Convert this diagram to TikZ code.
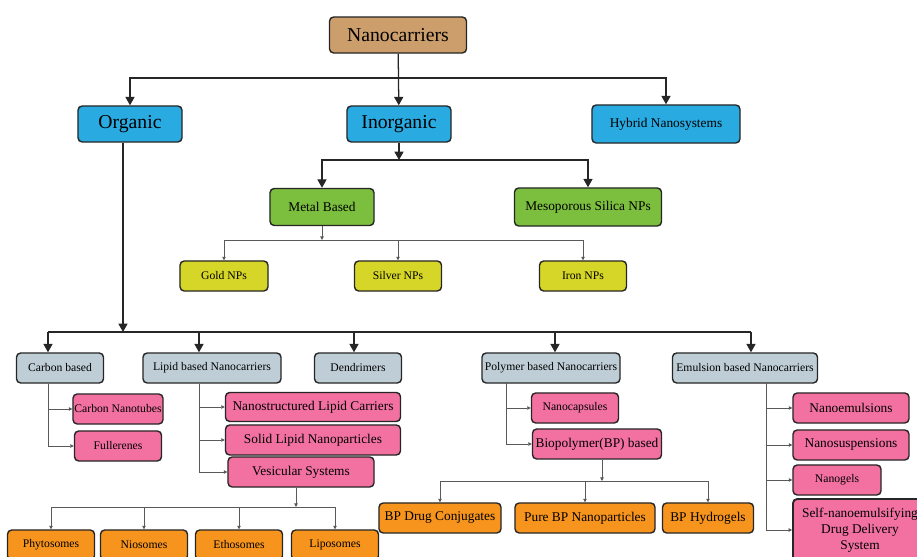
\documentclass[tikz,border=0pt]{standalone}
\usepackage{fontspec}
\setmainfont{Liberation Serif}
\usetikzlibrary{arrows.meta}
\definecolor{mtan}{RGB}{204,158,108}
\definecolor{mblue}{RGB}{41,171,226}
\definecolor{mgreen}{RGB}{124,190,62}
\definecolor{myellow}{RGB}{214,214,40}
\definecolor{mgrey}{RGB}{191,206,214}
\definecolor{mpink}{RGB}{242,113,160}
\definecolor{morange}{RGB}{247,148,30}
\tikzset{box/.style = {draw=black!85, line width=1pt, rounded corners=3pt, inner sep=1pt, align=center, text=black}}
\tikzset{lg/.style = {font=\fontsize{14}{16}\selectfont}}
\tikzset{md/.style = {font=\fontsize{9.5}{11.5}\selectfont}}
\tikzset{sm/.style = {font=\fontsize{8.3}{10}\selectfont}}
\tikzset{barrow/.style = {line width=0.9pt, draw=black!85, -{Triangle[width=6.5pt,length=6pt]}}}
\tikzset{sarrow/.style = {line width=0.6pt, draw=black!65, -{Triangle[width=2.5pt,length=2.5pt]}}}
\tikzset{bline/.style = {line width=0.9pt, draw=black!85}}

\begin{document}
\begin{tikzpicture}[x=0.025cm, y=-0.025cm]
    \useasboundingbox (0,0) rectangle (917,557);

    % top levels
    \node[box, lg, fill=mtan, minimum width=3.425cm, minimum height=0.9cm] (nano) at (398,35) {Nanocarriers};
    \node[box, lg, fill=mblue, minimum width=2.6cm, minimum height=0.9cm] (org) at (130,124) {Organic};
    \node[box, lg, fill=mblue, minimum width=2.6cm, minimum height=0.9cm] (inorg) at (399,124) {Inorganic};
    \node[box, md, fill=mblue, minimum width=3.7cm, minimum height=0.95cm] (hyb) at (666,124) {Hybrid Nanosystems};
    \node[box, md, fill=mgreen, minimum width=2.6cm, minimum height=0.925cm] (metal) at (322,207) {Metal Based};
    \node[box, md, fill=mgreen, minimum width=3.675cm, minimum height=0.95cm] (meso) at (588,207) {Mesoporous Silica NPs};
    \node[box, sm, fill=myellow, minimum width=2.2cm, minimum height=0.75cm] (gold) at (224,276) {Gold NPs};
    \node[box, sm, fill=myellow, minimum width=2.175cm, minimum height=0.75cm] (silver) at (398,276) {Silver NPs};
    \node[box, sm, fill=myellow, minimum width=2.175cm, minimum height=0.75cm] (iron) at (583,276) {Iron NPs};

    % organic classes
    \node[box, sm, fill=mgrey, minimum width=2.175cm, minimum height=0.75cm] (carb) at (60,368) {Carbon based};
    \node[box, sm, fill=mgrey, minimum width=3.45cm, minimum height=0.75cm] (lipid) at (212,368) {Lipid based Nanocarriers};
    \node[box, sm, fill=mgrey, minimum width=2.175cm, minimum height=0.75cm] (dend) at (358,368) {Dendrimers};
    \node[box, sm, fill=mgrey, minimum width=3.45cm, minimum height=0.75cm] (poly) at (551,368) {Polymer based Nanocarriers};
    \node[box, sm, fill=mgrey, minimum width=3.625cm, minimum height=0.75cm] (emul) at (745,368) {Emulsion based Nanocarriers};

    \node[box, sm, fill=mpink, minimum width=2.175cm, minimum height=0.75cm] (cnt) at (118,409) {Carbon Nanotubes};
    \node[box, sm, fill=mpink, minimum width=2.175cm, minimum height=0.75cm] (full) at (118,446) {Fullerenes};
    \node[box, md, fill=mpink, minimum width=4.375cm, minimum height=0.725cm] (nlc) at (313,407) {Nanostructured Lipid Carriers};
    \node[box, md, fill=mpink, minimum width=4.375cm, minimum height=0.75cm] (sln) at (313,440) {Solid Lipid Nanoparticles};
    \node[box, md, fill=mpink, minimum width=3.65cm, minimum height=0.75cm] (ves) at (301,472) {Vesicular Systems};
    \node[box, sm, fill=mpink, minimum width=2.175cm, minimum height=0.75cm] (ncap) at (575,408) {Nanocapsules};
    \node[box, md, fill=mpink, minimum width=3.225cm, minimum height=0.75cm] (biop) at (597,444) {Biopolymer(BP) based};
    \node[box, md, fill=mpink, minimum width=2.9cm, minimum height=0.75cm] (nemu) at (851,408) {Nanoemulsions};
    \node[box, md, fill=mpink, minimum width=2.9cm, minimum height=0.75cm] (nsus) at (851,445) {Nanosuspensions};
    \node[box, sm, fill=mpink, minimum width=2.2cm, minimum height=0.75cm] (ngel) at (837,480) {Nanogels};
    \node[box, md, fill=mpink, line width=1.3pt, minimum width=3.35cm, minimum height=1.55cm] (self) at (860,530) {Self-nanoemulsifying\\Drug Delivery\\System};

    \node[box, sm, fill=morange, minimum width=2.175cm, minimum height=0.75cm] (phy) at (51,545) {Phytosomes};
    \node[box, sm, fill=morange, minimum width=2.175cm, minimum height=0.75cm] (nio) at (144,545) {Niosomes};
    \node[box, sm, fill=morange, minimum width=2.175cm, minimum height=0.75cm] (eth) at (239,545) {Ethosomes};
    \node[box, sm, fill=morange, minimum width=2.175cm, minimum height=0.75cm] (lipo) at (335,545) {Liposomes};
    \node[box, md, fill=morange, minimum width=3.05cm, minimum height=0.75cm] (bpdc) at (440,518) {BP Drug Conjugates};
    \node[box, md, fill=morange, minimum width=3.5cm, minimum height=0.75cm] (pure) at (585,518) {Pure BP Nanoparticles};
    \node[box, md, fill=morange, minimum width=2.275cm, minimum height=0.75cm] (hydro) at (708,518) {BP Hydrogels};

    % connectors
    \coordinate (t1) at (398,78);
    \draw[barrow] (nano) -- (inorg);
    \draw[barrow] (t1) -| (org);
    \draw[barrow] (t1) -| (hyb);

    \coordinate (i1) at (399,160);
    \draw[barrow] (inorg) -- (i1);
    \draw[barrow] (i1) -| (metal);
    \draw[barrow] (i1) -| (meso);

    \coordinate (m1) at (322,240);
    \draw[sarrow] (metal) -- (m1);
    \foreach \n in {gold, silver, iron}
        \draw[sarrow] (m1) -| (\n);

    \coordinate (o1) at (123,332);
    \coordinate (c1) at (48,332);
    \coordinate (c2) at (199,332);
    \coordinate (c3) at (354,332);
    \coordinate (c4) at (555,332);
    \coordinate (c5) at (751,332);
    \draw[barrow] (org.south -| o1) -- (o1);
    \draw[bline] (c1) -- (c5);
    \draw[barrow] (c1) -- (c1 |- carb.north);
    \draw[barrow] (c2) -- (c2 |- lipid.north);
    \draw[barrow] (c3) -- (c3 |- dend.north);
    \draw[barrow] (c4) -- (c4 |- poly.north);
    \draw[barrow] (c5) -- (c5 |- emul.north);

    \foreach \n in {cnt, full}
        \draw[sarrow] (carb.south -| c1) |- (\n);
    \foreach \n in {nlc, sln, ves}
        \draw[sarrow] (lipid.south -| c2) |- (\n);

    \coordinate (p1) at (506,383);
    \foreach \n in {ncap, biop}
        \draw[sarrow] (p1) |- (\n);
    \coordinate (e1) at (766,383);
    \foreach \n in {nemu, nsus, ngel, self}
        \draw[sarrow] (e1) |- (\n);

    \coordinate (v1) at (296,507);
    \draw[sarrow] (ves.south -| v1) -- (v1);
    \foreach \n in {phy, nio, eth, lipo}
        \draw[sarrow] (v1) -| (\n);

    \coordinate (b1) at (602,481);
    \draw[sarrow] (biop.south -| b1) -- (b1);
    \foreach \n in {bpdc, pure, hydro}
        \draw[sarrow] (b1) -| (\n);
\end{tikzpicture}
\end{document}
